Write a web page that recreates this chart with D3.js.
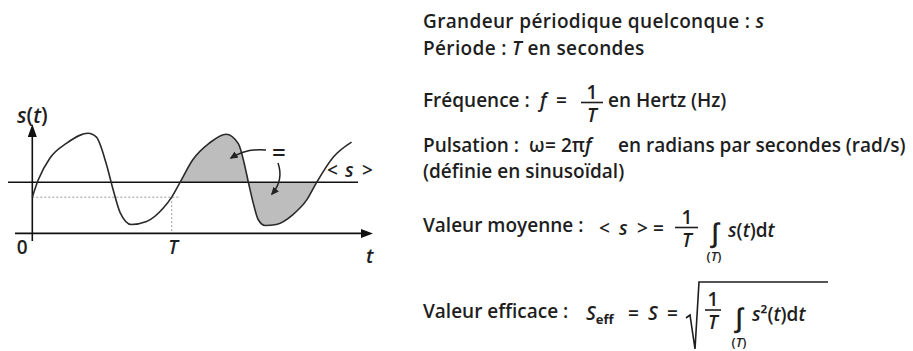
<!DOCTYPE html>
<html>
<head>
<meta charset="utf-8">
<script src="https://cdn.jsdelivr.net/npm/d3@7"></script>
<style>
  body { margin: 0; background: #fff; }
  svg { display: block; }
  text { font-family: "Open Sans", sans-serif; fill: #1e1e1e; font-weight: 600; }
  .it { font-style: italic; }
</style>
</head>
<body>
<svg width="913" height="351"></svg>
<script>
// t in units of the period T, s relative to the mean <s>
var tValues = [0, 0.043, 0.127, 0.247, 0.40, 0.46, 0.53, 0.58, 0.63, 0.71, 0.82, 0.94, 1.0,
               1.06, 1.15, 1.27, 1.39, 1.478, 1.526, 1.55, 1.585, 1.62, 1.67, 1.75, 1.87, 1.97, 2.04, 2.16, 2.29];
var sValues = [-0.30, 0.05, 0.49, 0.79, 0.99, 0.91, 0.38, -0.15, -0.61, -0.85, -0.79, -0.52, -0.30,
               0.0, 0.45, 0.79, 0.97, 0.78, 0.31, 0.0, -0.42, -0.75, -0.87, -0.85, -0.65, -0.35, 0.0, 0.51, 0.81];
var fillRange = [1.06, 2.04];       // shaded lobes, between the two mean crossings after T
var axisTicks = [0, 1];
var axisTickLabels = ["0", "T"];
var sAtZero = -0.30;                // value at t = 0 (dashed guide)
var sAxisLevel = -1.03;             // level of the t axis

function mymap(){
	var svg = d3.select("svg");
	var x = d3.scaleLinear().domain([0, 1]).range([32.3, 171.7]);
	var y = d3.scaleLinear().domain([0, 1]).range([182.3, 132.7]);
	var pts = tValues.map(function(t, i){ return [t, sValues[i]]; });

	var defs = svg.append("defs");
	defs.append("clipPath").attr("id", "lobes")
		.append("rect")
		.attr("x", x(fillRange[0])).attr("width", x(fillRange[1]) - x(fillRange[0]))
		.attr("y", 0).attr("height", 351);
	defs.append("marker").attr("id", "head")
		.attr("viewBox", "0 -5 10 10").attr("refX", 8).attr("refY", 0)
		.attr("markerWidth", 8).attr("markerHeight", 8).attr("markerUnits", "userSpaceOnUse")
		.attr("orient", "auto")
		.append("path").attr("d", "M0,-4.5L10,0L0,4.5Z").attr("fill", "#222");

	var g = svg.append("g");

	// shaded area between s(t) and <s>
	var area = d3.area().curve(d3.curveMonotoneX)
		.x(function(d){ return x(d[0]); })
		.y0(y(0))
		.y1(function(d){ return y(d[1]); });
	g.append("path").datum(pts)
		.attr("d", area)
		.attr("clip-path", "url(#lobes)")
		.attr("fill", "#bdbdbd");

	// dotted guides
	var xAxisY = y(sAxisLevel);
	g.append("line")
		.attr("x1", x(0)).attr("x2", x(1) + 8)
		.attr("y1", y(sAtZero)).attr("y2", y(sAtZero))
		.attr("stroke", "#9a9a9a").attr("stroke-width", 1).attr("stroke-dasharray", "2,2");
	g.append("line")
		.attr("x1", x(1)).attr("x2", x(1))
		.attr("y1", y(sAtZero)).attr("y2", xAxisY)
		.attr("stroke", "#9a9a9a").attr("stroke-width", 1).attr("stroke-dasharray", "2,2");

	// mean line
	g.append("line")
		.attr("x1", 8).attr("x2", 358)
		.attr("y1", y(0)).attr("y2", y(0))
		.attr("stroke", "#111").attr("stroke-width", 1.4);

	// axes
	g.append("line")
		.attr("x1", 15).attr("x2", 362)
		.attr("y1", xAxisY).attr("y2", xAxisY)
		.attr("stroke", "#111").attr("stroke-width", 1.6);
	g.append("path")
		.attr("d", "M373," + xAxisY + "L361," + (xAxisY - 4.5) + "L361," + (xAxisY + 4.5) + "Z")
		.attr("fill", "#111");
	g.append("line")
		.attr("x1", x(0)).attr("x2", x(0))
		.attr("y1", 241).attr("y2", 136)
		.attr("stroke", "#111").attr("stroke-width", 1.6);
	g.append("path")
		.attr("d", "M" + x(0) + ",124L" + (x(0) - 4.5) + ",137L" + (x(0) + 4.5) + ",137Z")
		.attr("fill", "#111");

	// tick labels through a d3 axis (no tick marks)
	var ax = g.append("g")
		.attr("transform", "translate(0," + xAxisY + ")")
		.call(d3.axisBottom(x).tickValues(axisTicks).tickSize(0)
			.tickFormat(function(d, i){ return axisTickLabels[i]; }));
	ax.select(".domain").remove();
	ax.selectAll("text")
		.attr("font-family", "'Open Sans', sans-serif").attr("font-size", 19)
		.attr("fill", "#1e1e1e")
		.attr("dy", null).attr("y", 21)
		.classed("it", function(d, i){ return axisTickLabels[i] === "T"; })
		.attr("dx", function(d, i){ return i === 0 ? -10.5 : 1; });

	// the curve
	var line = d3.line().curve(d3.curveMonotoneX)
		.x(function(d){ return x(d[0]); })
		.y(function(d){ return y(d[1]); });
	g.append("path").datum(pts)
		.attr("d", line)
		.attr("fill", "none")
		.attr("stroke", "#2a2a2a").attr("stroke-width", 1.6);

	// labels on the chart
	var st = g.append("text").attr("x", 17).attr("y", 123).attr("font-size", 21);
	st.append("tspan").attr("class", "it").text("s");
	st.append("tspan").text("(");
	st.append("tspan").attr("class", "it").text("t");
	st.append("tspan").text(")");
	g.append("text").attr("x", 366).attr("y", 263).attr("font-size", 20).attr("class", "it").text("t");
	g.append("text").attr("x", 327).attr("y", 177).attr("font-size", 19).text("<");
	g.append("text").attr("x", 345).attr("y", 177).attr("font-size", 19).attr("class", "it").text("s");
	g.append("text").attr("x", 362).attr("y", 177).attr("font-size", 19).text(">");
	g.append("text").attr("x", 272).attr("y", 161).attr("font-size", 24).attr("font-weight", 700).text("=");

	g.append("path").attr("d", "M266,150 Q247,148 231,158")
		.attr("fill", "none").attr("stroke", "#222").attr("stroke-width", 1.5)
		.attr("marker-end", "url(#head)");
	g.append("path").attr("d", "M278,163 Q284,180 272,194")
		.attr("fill", "none").attr("stroke", "#222").attr("stroke-width", 1.5)
		.attr("marker-end", "url(#head)");

	// formulas on the right
	var fs = 19;
	function txt(px, py, parts, size){
		var t = svg.append("text").attr("x", px).attr("y", py).attr("font-size", size || fs);
		parts.forEach(function(p){
			var sp = t.append("tspan").text(p[0]);
			if (p[1]) sp.attr("class", "it");
		});
		return t;
	}
	function frac(cx, barY, x1, x2, num, den, numIt, denIt){
		svg.append("line").attr("x1", x1).attr("x2", x2).attr("y1", barY).attr("y2", barY)
			.attr("stroke", "#1e1e1e").attr("stroke-width", 1.6);
		txt(cx, barY - 4, [[num, numIt]]).attr("text-anchor", "middle");
		txt(cx, barY + 19, [[den, denIt]]).attr("text-anchor", "middle");
	}

	txt(423, 28, [["Grandeur périodique quelconque : "], ["s", true]]).attr("letter-spacing", 0.35);
	txt(423, 55, [["Période : "], ["T", true], [" en secondes"]]).attr("letter-spacing", 0.35);

	txt(423, 107, [["Fréquence :"]]);
	txt(540, 107, [["f", true]]);
	txt(556, 107, [["="]]);
	frac(592, 102.5, 581, 603, "1", "T", false, true);
	txt(608, 107, [["en Hertz (Hz)"]]);

	txt(423, 152, [["Pulsation :"]]);
	svg.append("text").attr("x", 529).attr("y", 152).attr("font-size", 19).attr("font-weight", 400)
		.attr("font-family", "'Liberation Serif', serif").text("ω");
	txt(545, 152, [["="]]);
	txt(561, 152, [["2π"], ["f", true]]);
	txt(618, 152, [["en radians par secondes (rad/s)"]]);
	txt(423, 178, [["(définie en sinusoïdal)"]]);

	txt(423, 232, [["Valeur moyenne :"]]);
	txt(599, 235, [["<"]]);
	txt(619, 235, [["s", true]]);
	txt(637, 235, [[">"]]);
	txt(653, 235, [["="]]);
	frac(687, 227.5, 675, 698, "1", "T", false, true);
	svg.append("text").attr("x", 715).attr("y", 242).attr("font-size", 26).attr("font-weight", 400)
		.attr("text-anchor", "middle").attr("font-family", "'DejaVu Sans', sans-serif").text("∫");
	txt(714, 261, [["("], ["T", true], [")"]], 13).attr("text-anchor", "middle");
	txt(728, 237, [["s", true], ["(", false], ["t", true], [")d", false], ["t", true]]);

	txt(423, 318, [["Valeur efficace :"]]);
	var se = txt(586, 320, [["S", true]]);
	se.append("tspan").attr("font-size", 13).attr("font-weight", 700).attr("dy", 4).text("eff");
	txt(628, 320, [["="]]);
	txt(648, 320, [["S", true]]);
	txt(667, 320, [["="]]);
	svg.append("path")
		.attr("d", "M686,318 L690,315 L695,349 L699,282 L828,282")
		.attr("fill", "none").attr("stroke", "#1e1e1e").attr("stroke-width", 1.6);
	frac(713, 310, 705, 721, "1", "T", false, true);
	svg.append("text").attr("x", 739).attr("y", 327).attr("font-size", 26).attr("font-weight", 400)
		.attr("text-anchor", "middle").attr("font-family", "'DejaVu Sans', sans-serif").text("∫");
	txt(739, 347, [["("], ["T", true], [")"]], 13).attr("text-anchor", "middle");
	txt(752, 321, [["s", true], ["²(", false], ["t", true], [")d", false], ["t", true]]);
}
mymap();
</script>
</body>
</html>
